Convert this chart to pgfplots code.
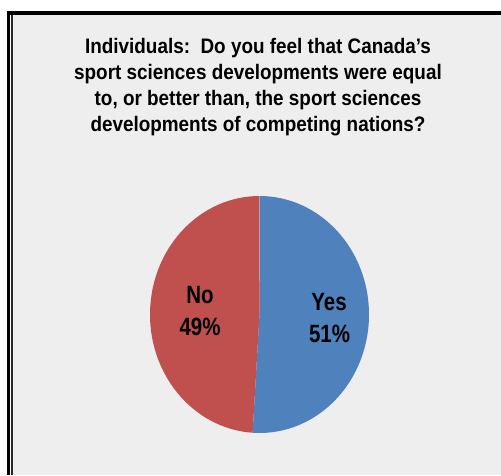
\documentclass[border=0pt]{standalone}
\usepackage{pgfplots}
\pgfplotsset{compat=1.18}
\usepackage{pgfplotstable}
\usepackage{fontspec}
\setmainfont{Liberation Sans}
\newfontfamily\narrow[FakeStretch=0.82]{Liberation Sans}
\newfontfamily\titlefont[FakeStretch=0.9]{Liberation Sans}
\definecolor{pieblue}{HTML}{4F81BD}
\definecolor{piered}{HTML}{C0504D}
\definecolor{bggrey}{HTML}{EEEEEE}

\pgfplotstableread{
label value
Yes 51
No 49
}\piedata

\begin{document}
\begin{tikzpicture}
% page background and frame (pixel units, origin bottom-left)
\fill[white] (0,0) rectangle (501pt,475pt);
\fill[bggrey] (13pt,0) rectangle (501pt,460pt);
\fill[black] (7pt,460pt) rectangle (501pt,464pt);
\fill[black] (7pt,0) rectangle (10pt,464pt);
\fill[black!85] (11pt,0) rectangle (13pt,460pt);

% title
\begin{scope}[every node/.style={anchor=base,inner sep=0pt,font=\titlefont\bfseries\fontsize{21}{26}\selectfont}]
\node at (258pt,421pt) {Individuals:\ \ Do you feel that Canada’s};
\node at (258pt,395pt) {sport sciences developments were equal};
\node at (258pt,369pt) {to, or better than, the sport sciences};
\node at (258pt,343pt) {developments of competing nations?};
\end{scope}

\pgfplotstablegetelem{0}{value}\of\piedata
\pgfmathsetmacro{\va}{\pgfplotsretval}
\pgfplotstablegetelem{1}{value}\of\piedata
\pgfmathsetmacro{\vb}{\pgfplotsretval}
\pgfmathsetmacro{\tot}{\va+\vb}
\pgfmathsetmacro{\fa}{\va/\tot}
\pgfmathsetmacro{\fb}{\vb/\tot}
\pgfmathsetmacro{\aend}{90-360*\fa}
\pgfmathsetmacro{\bend}{\aend-360*\fb}

\begin{axis}[at={(259.5pt,160.5pt)}, anchor=center, scale only axis,
  width=262.8pt, height=284.4pt,
  xmin=-1.2, xmax=1.2, ymin=-1.2, ymax=1.2,
  hide axis, clip=false]
\fill[pieblue] (axis cs:0,0) -- (axis cs:0,1)
  arc[start angle=90, end angle=\aend, x radius=109.5pt, y radius=118.5pt] -- cycle;
\fill[piered] (axis cs:0,0) -- (axis cs:{cos(\aend)},{sin(\aend)})
  arc[start angle=\aend, end angle=\bend, x radius=109.5pt, y radius=118.5pt] -- cycle;
\begin{scope}[every node/.style={anchor=base,inner sep=0pt,font=\narrow\bfseries\fontsize{25}{32}\selectfont}]
\node at (axis cs:0.635,0.03) {Yes};
\node at (axis cs:0.64,-0.24) {51\%};
\node at (axis cs:-0.543,0.097) {No};
\node at (axis cs:-0.543,-0.173) {49\%};
\end{scope}
\end{axis}
\end{tikzpicture}
\end{document}
